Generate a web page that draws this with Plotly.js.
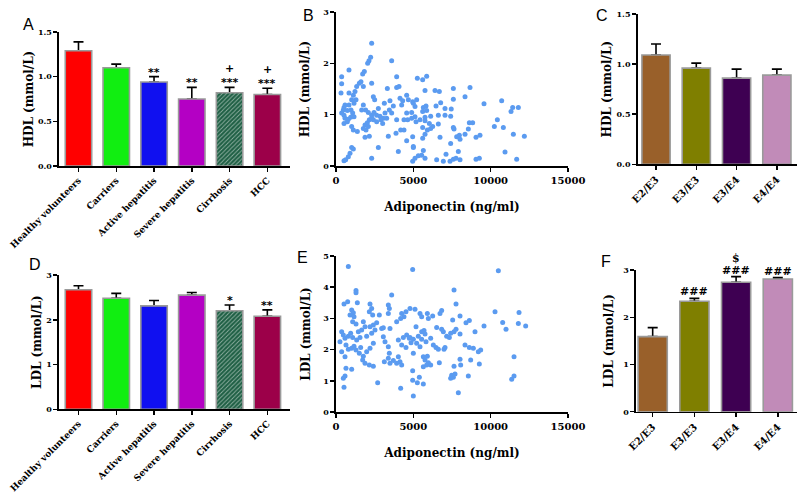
<!DOCTYPE html>
<html><head><meta charset="utf-8">
<script src="https://cdn.plot.ly/plotly-3.0.1.min.js"></script>
<style>html,body{margin:0;padding:0;background:#fff}#chart{width:800px;height:494px}</style>
</head><body><div id="chart"></div>
<script>
// ---------- data ----------
const groups = ['Healthy volunteers','Carriers','Active hepatitis','Severe hepatitis','Cirrhosis','HCC'];
const hdlGroupMean = [1.29,1.10,0.94,0.75,0.82,0.80];
const hdlGroupSem  = [0.10,0.04,0.06,0.13,0.06,0.07];
const hdlGroupSig  = ['','','**','**','***','***'];
const hdlGroupSig2 = ['','','','','+','+'];
const ldlGroupMean = [2.67,2.48,2.31,2.55,2.20,2.08];
const ldlGroupSem  = [0.09,0.11,0.12,0.06,0.13,0.14];
const ldlGroupSig  = ['','','','','*','**'];

const genotypes = ['E2/E3','E3/E3','E3/E4','E4/E4'];
const hdlGenoMean = [1.09,0.96,0.86,0.89];
const hdlGenoSem  = [0.11,0.05,0.09,0.06];
const ldlGenoMean = [1.59,2.34,2.74,2.81];
const ldlGenoSem  = [0.19,0.06,0.12,0.03];
const ldlGenoSig  = ['','###','###','###'];
const ldlGenoSig2 = ['','','$',''];

const hdlAdipoX = [2306,2241,2133,2047,3599,840,366,1832,1724,366,1616,1508,1336,2306,3922,3922,4073,323,840,1228,1120,1767,2414,3319,2500,1293,1013,1164,840,582,517,474,366,517,970,1077,733,1659,1767,1918,2090,2737,3125,3491,3707,4138,4310,4245,4569,4677,4957,2306,2457,2629,2845,3060,3168,3448,3599,4569,582,797,948,1164,517,733,1875,2026,2155,2306,2414,1767,1940,2090,2629,2909,3017,3276,3922,4396,4633,1013,1120,1379,1875,2155,3383,3879,4181,4396,4569,4957,1013,1120,905,2737,4030,5000,797,625,517,2306,
5259,5603,5862,5755,6401,6681,7587,8664,8341,7587,9569,5216,5000,5108,5647,5819,5862,5604,6466,6767,7048,7451,4893,5108,5431,5755,6121,6617,7048,7414,4893,5173,5755,6035,5604,5905,6121,6250,6617,5755,5604,6724,7587,7630,7975,7802,8018,8556,8621,8836,8341,9052,9310,5000,5647,7414,7910,5539,5755,5108,5323,4957,6509,6940,7112,7371,7587,7759,8018,9052,9267,
10712,11423,11790,11316,10432,10238,10820,11467,12178,10928,11682];
const hdlAdipoY = [2.39,2.12,2.05,2.00,2.05,1.87,1.74,1.84,1.79,1.60,1.64,1.61,1.55,1.61,1.74,1.53,1.55,1.42,1.42,1.45,1.38,1.55,1.35,1.51,1.29,1.29,1.29,1.22,1.19,1.19,1.14,1.09,1.03,0.99,1.09,1.03,1.08,1.09,1.19,1.09,1.04,1.12,1.22,1.27,1.17,1.32,1.27,1.19,1.38,1.29,1.25,0.99,1.04,0.99,0.97,0.93,1.03,1.09,1.03,1.03,0.93,0.91,0.95,0.96,0.83,0.86,0.80,0.84,0.90,0.93,0.90,0.73,0.70,0.77,0.86,0.90,0.83,0.93,0.90,0.90,0.90,0.77,0.70,0.67,0.56,0.58,0.58,0.64,0.70,0.70,0.49,0.57,0.36,0.33,0.25,0.36,0.28,0.36,0.18,0.12,0.10,0.15,
1.71,1.68,1.75,1.47,1.47,1.45,1.51,1.53,1.35,1.30,1.21,1.29,1.22,1.16,1.14,1.17,1.08,1.06,1.17,1.23,1.12,1.11,1.04,0.96,0.90,0.95,0.97,0.99,0.99,0.97,0.93,0.86,0.88,0.83,0.75,0.70,0.73,0.77,0.82,0.62,0.54,0.56,0.75,0.72,0.60,0.57,0.52,0.72,0.84,0.84,0.62,0.56,0.60,0.38,0.30,0.44,0.28,0.21,0.15,0.15,0.20,0.09,0.12,0.09,0.23,0.09,0.13,0.15,0.12,0.13,0.15,
1.27,1.14,1.14,1.06,0.90,0.77,0.75,0.62,0.58,0.27,0.13];

const ldlAdipoX = [797,1293,1293,3599,517,754,1379,1013,1120,905,1164,2198,2306,2155,2370,2802,3383,3448,3383,4245,4396,4181,4525,4784,3922,1077,1293,1767,1875,1659,1444,2198,2414,2629,2953,3060,3491,366,474,582,258,797,948,1077,1336,1552,1982,2306,2521,3060,3168,4030,4353,4569,4741,4245,4525,4849,646,797,366,582,1013,1164,1293,1595,1508,1767,1724,1875,2155,2414,1983,2198,2414,3383,3448,3383,3125,3491,3707,4030,4138,4245,3922,646,1013,582,474,517,2694,4181,4957,4957,5000,
4957,7630,7759,5108,5431,5539,5905,5970,6250,6724,6832,7543,8018,8405,8621,9569,8987,5173,5539,5690,5755,6509,6832,6940,7155,7328,7414,7630,7759,8018,4785,5000,5323,5539,5216,5431,5819,6121,6293,6466,6617,6983,7048,5000,5647,5905,5755,5970,5647,5862,6121,6681,8341,8621,8880,9203,9354,9267,8018,8061,7630,8707,7479,7587,7694,7414,8556,5388,5259,5647,7910,
10497,10281,11833,10777,10992,11790,12264,11510,11510,11359];
const ldlAdipoY = [4.66,3.89,3.82,3.75,3.46,3.53,3.50,3.27,3.18,3.11,3.05,3.46,3.32,3.21,3.11,3.11,3.43,3.32,3.16,3.16,3.05,3.00,3.21,3.32,2.89,2.89,2.82,2.89,2.73,2.63,2.57,2.73,2.79,2.86,2.68,2.70,2.68,2.57,2.47,2.36,2.25,2.43,2.52,2.39,2.31,2.39,2.43,2.52,2.63,2.41,2.25,2.31,2.39,2.47,2.36,2.15,2.07,2.22,2.15,2.01,1.93,1.77,2.04,2.11,1.99,2.07,1.88,1.79,1.67,1.56,1.51,1.47,1.93,2.04,2.20,2.09,1.88,1.72,1.61,1.56,1.65,1.77,1.61,1.51,1.56,1.40,1.37,1.15,1.08,0.79,0.94,0.76,1.02,1.32,0.51,
4.57,3.91,3.46,3.29,3.16,3.05,3.16,3.00,3.08,3.16,3.25,2.95,3.08,2.86,2.93,2.76,2.57,2.73,2.57,2.61,2.50,2.71,2.65,2.57,2.43,2.39,2.52,2.57,2.65,2.50,2.39,2.33,2.43,2.33,2.20,2.09,2.25,2.36,2.15,2.07,2.01,2.01,2.07,1.88,1.77,1.79,1.67,1.58,1.45,1.51,1.51,1.58,2.15,2.07,2.04,1.93,1.99,1.54,1.69,1.51,1.47,1.67,1.18,1.11,1.22,1.08,1.15,1.11,0.94,0.90,0.62,
4.53,3.21,3.19,2.87,2.65,2.84,2.76,1.77,1.15,1.05];

// ---------- styles ----------
const groupColors = ['#ff0000','#11ee11','#1010f0','#b400c4','#1e5f44','#9c0049'];
const groupShapes = ['','','','','/',''];
const genoColors = ['#99602a','#7f7f00','#3e0052','#c18bb8'];
const SERIF = 'DejaVu Serif';
const tickF = (s) => ({family: SERIF, size: s, color: '#000', weight: 'bold'});

function barPair(cats, means, sems, colors, xa, ya, shapes) {
  const back = {type:'bar', x:cats, y:means, xaxis:xa, yaxis:ya, showlegend:false, hoverinfo:'skip',
    marker:{color:'rgba(0,0,0,0)', line:{width:0}},
    error_y:{type:'data', symmetric:false, array:sems, arrayminus:sems.map(() => 0), color:'#000', thickness:1.6, width:5}};
  const front = {type:'bar', x:cats, y:means, xaxis:xa, yaxis:ya, showlegend:false,
    marker:{color:colors, line:{color:'#9a9a9a', width:1.6}}};
  if (shapes) front.marker.pattern = {shape: shapes, fillmode:'overlay', fgcolor:'#2e7a58', size:3, solidity:0.3};
  return [back, front];
}

const traces = [
  ...barPair(groups, hdlGroupMean, hdlGroupSem, groupColors, 'x', 'y', groupShapes),
  {type:'scatter', mode:'markers', x:hdlAdipoX, y:hdlAdipoY, xaxis:'x2', yaxis:'y2', showlegend:false,
   marker:{color:'#5b9bf0', size:5}, cliponaxis:false},
  ...barPair(genotypes, hdlGenoMean, hdlGenoSem, genoColors, 'x3', 'y3'),
  ...barPair(groups, ldlGroupMean, ldlGroupSem, groupColors, 'x4', 'y4', groupShapes),
  {type:'scatter', mode:'markers', x:ldlAdipoX, y:ldlAdipoY, xaxis:'x5', yaxis:'y5', showlegend:false,
   marker:{color:'#5b9bf0', size:5}, cliponaxis:false},
  ...barPair(genotypes, ldlGenoMean, ldlGenoSem, genoColors, 'x6', 'y6')
];

const axBase = {showline:true, linecolor:'#000', linewidth:1.6, ticks:'outside', ticklen:4, tickwidth:1.5,
  tickcolor:'#000', showgrid:false, zeroline:false, fixedrange:true};
function catX(domain, range, angle, fs) {
  return Object.assign({}, axBase, {domain, range, type:'category', tickangle:angle, tickfont:tickF(fs)});
}
function valY(domain, range, dtick, fmt, title, standoff) {
  return Object.assign({}, axBase, {domain, range, dtick, tickformat:fmt, tickfont:tickF(8),
    title:{text:title, font:{family:SERIF, size:12, color:'#000', weight:'bold'}, standoff}});
}
function scatX(domain, yanchor) {
  return Object.assign({}, axBase, {domain, range:[0,15000], dtick:5000, tickformat:'d', tickfont:tickF(10), anchor:yanchor,
    title:{text:'Adiponectin (ng/ml)', font:{family:SERIF, size:12, color:'#000', weight:'bold'}, standoff:18}});
}

const annotations = [];
function sigNotes(cats, means, sems, texts, xa, ya, shift, fam, fs) {
  cats.forEach((c, i) => {
    if (!texts[i]) return;
    annotations.push({xref:xa, yref:ya, x:c, y:means[i] + sems[i], text:texts[i], showarrow:false,
      yanchor:'bottom', yshift:shift, font:{family:fam, size:fs, color:'#000', weight:'bold'}});
  });
}
sigNotes(groups, hdlGroupMean, hdlGroupSem, hdlGroupSig, 'x', 'y', -4, 'DejaVu Sans', 11);
sigNotes(groups, hdlGroupMean, hdlGroupSem, hdlGroupSig2, 'x', 'y', 10, 'DejaVu Sans', 11);
sigNotes(groups, ldlGroupMean, ldlGroupSem, ldlGroupSig, 'x4', 'y4', -4, 'DejaVu Sans', 11);
sigNotes(genotypes, ldlGenoMean, ldlGenoSem, ldlGenoSig, 'x6', 'y6', -2, 'DejaVu Serif', 11);
sigNotes(genotypes, ldlGenoMean, ldlGenoSem, ldlGenoSig2, 'x6', 'y6', 10, 'DejaVu Serif', 11);

const panelLetters = [['A',28,24],['B',308,15],['C',602,15],['D',35,264],['E',302,257],['F',606,261]];
panelLetters.forEach(([t, px, py]) => annotations.push({xref:'paper', yref:'paper', x:px/800, y:1-py/494,
  text:t, showarrow:false, xanchor:'center', yanchor:'middle', font:{family:'Liberation Sans', size:16, color:'#000'}}));

const layout = {
  width:800, height:494, margin:{l:0, r:0, t:0, b:0}, paper_bgcolor:'#fff', plot_bgcolor:'rgba(0,0,0,0)',
  barmode:'overlay', bargap:0.3, showlegend:false,
  xaxis:  catX([0.07375,0.3625], [-0.516,5.6], -45, 9),
  yaxis:  valY([0.664,0.9352], [0,1.5], 0.5, '.1f', 'HDL (mmol/L)', 1),
  xaxis2: scatX([0.42,0.71], 'y2'),
  yaxis2: valY([0.664,0.9757], [0,3], 1, 'd', 'HDL (mmol/L)', 11),
  xaxis3: catX([0.7971,0.99625], [-0.455,3.5], -45, 10),
  yaxis3: valY([0.6674,0.9717], [0,1.5], 0.5, '.1f', 'HDL (mmol/L)', 2),
  xaxis4: catX([0.07375,0.3625], [-0.516,5.6], -45, 9),
  yaxis4: valY([0.1715,0.4433], [0,3], 1, 'd', 'LDL (mmol/L)', 2),
  xaxis5: scatX([0.42,0.71], 'y5'),
  yaxis5: valY([0.166,0.4818], [0,5], 1, 'd', 'LDL (mmol/L)', 10),
  xaxis6: catX([0.795,0.99625], [-0.4,3.46], -45, 10),
  yaxis6: valY([0.1666,0.4534], [0,3], 1, 'd', 'LDL (mmol/L)', 7),
  annotations
};
['','2','3','4','5','6'].forEach(n => { layout['xaxis'+n].anchor = 'y'+n; layout['yaxis'+n].anchor = 'x'+n; });

Plotly.newPlot('chart', traces, layout, {displayModeBar:false, staticPlot:true});
</script></body></html>
